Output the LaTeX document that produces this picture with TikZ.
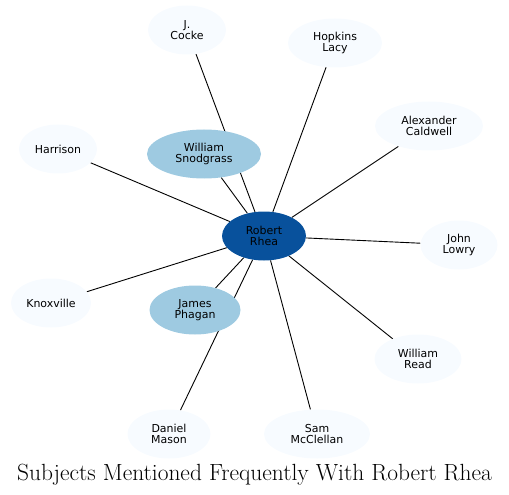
\documentclass[tikz,border=0pt]{standalone}
\usepackage{fontspec}
\setsansfont{DejaVu Sans}
\usepackage{tikz}
\usetikzlibrary{shapes.geometric,backgrounds}
\definecolor{hubblue}{HTML}{08519C}
\definecolor{midblue}{HTML}{9ECAE1}
\definecolor{paleblue}{HTML}{F7FBFF}

\begin{document}
\begin{tikzpicture}[x=1bp, y=-1bp,
    every ellipse node/.style={inner sep=0pt, minimum height=49bp, align=center,
        font=\sffamily\fontsize{11}{11.5}\selectfont},
    hub/.style={ellipse, fill=hubblue},
    near/.style={ellipse, fill=midblue},
    far/.style={ellipse, fill=paleblue},
    link/.style={line width=0.9bp, black}]
            \useasboundingbox (0, 0) rectangle (509, 495);
            \draw (264, 236) node[hub, minimum width=84bp, minimum height=48bp](rhea){Robert\\Rhea};
            \draw (204, 154) node[near, minimum width=114bp](snodgrass){William\\Snodgrass};
            \draw (195, 310) node[near, minimum width=91bp](phagan){James\\Phagan};
            \draw (187, 30) node[far, minimum width=78bp](cocke){J.\\Cocke};
            \draw (335, 43) node[far, minimum width=94bp, minimum height=50bp](lacy){Hopkins\\Lacy};
            \draw (429, 126) node[far, minimum width=108bp](caldwell){Alexander\\Caldwell};
            \draw (58, 149) node[far, minimum width=78bp](harrison){Harrison};
            \draw (459, 245) node[far, minimum width=77bp](lowry){John\\Lowry};
            \draw (51, 303) node[far, minimum width=80bp](knoxville){Knoxville};
            \draw (418, 359) node[far, minimum width=87bp](read){William\\Read};
            \draw (169, 434) node[far, minimum width=83bp](mason){Daniel\\Mason};
            \draw (317, 434) node[far, minimum width=106bp](mcclellan){Sam\\McClellan};
            \draw (254.5, 480) node[anchor=base](title){\fontsize{23.5}{26}\selectfont Subjects Mentioned Frequently With Robert Rhea};
            \begin{scope}[on background layer]
            \draw[link] (rhea) -- (snodgrass);
            \draw[link] (rhea) -- (phagan);
            \draw[link] (rhea) -- (cocke);
            \draw[link] (rhea) -- (lacy);
            \draw[link] (rhea) -- (caldwell);
            \draw[link] (rhea) -- (harrison);
            \draw[link] (rhea) -- (lowry);
            \draw[link] (rhea) -- (knoxville);
            \draw[link] (rhea) -- (read);
            \draw[link] (rhea) -- (mason);
            \draw[link] (rhea) -- (mcclellan);
            \end{scope}
        \end{tikzpicture}
\end{document}
